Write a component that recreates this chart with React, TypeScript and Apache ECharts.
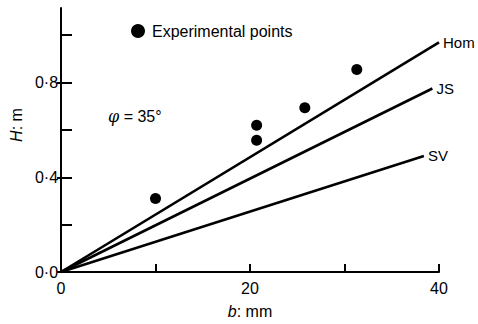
import React, { useEffect, useRef } from "react";
import * as echarts from "echarts";

const homLine: [number, number][] = [[0, 0], [40, 0.97]];
const jsLine: [number, number][] = [[0, 0], [39.3, 0.775]];
const svLine: [number, number][] = [[0, 0], [38.4, 0.49]];
const expPoints: [number, number][] = [
  [10, 0.31],
  [20.7, 0.62],
  [20.7, 0.556],
  [25.8, 0.694],
  [31.3, 0.855],
];
const xLabelValues = [0, 20, 40];
const xTickValues = [10, 20, 30, 40];
const yLabelValues = [0, 0.4, 0.8];
const yInnerTickValues = [0.2, 0.4, 0.6, 0.8, 1.0];

const FONT = "Liberation Sans, Arial, sans-serif";

export default function App() {
  const ref = useRef<HTMLDivElement>(null);
  useEffect(() => {
    if (!ref.current) return;
    const chart = echarts.init(ref.current, undefined, { renderer: "svg" });
    const lineSeries = (name: string, data: [number, number][]) => ({
      type: "line",
      name,
      data,
      symbol: "none",
      lineStyle: { color: "#000", width: 2.6 },
      itemStyle: { color: "#000" },
      endLabel: {
        show: true,
        formatter: name,
        color: "#000",
        fontFamily: FONT,
        fontSize: 15,
        distance: 4,
      },
      silent: true,
    });
    chart.setOption({
      animation: false,
      backgroundColor: "#fff",
      textStyle: { fontFamily: FONT, color: "#000" },
      grid: { left: 60, right: 39, top: 8, bottom: 48, containLabel: false },
      legend: {
        data: [{ name: "Experimental points", icon: "circle" }],
        left: 126,
        top: 18,
        itemWidth: 14,
        itemHeight: 14,
        itemGap: 4,
        textStyle: { color: "#000", fontSize: 16, fontFamily: FONT, padding: [0, 0, 0, 2] },
      },
      graphic: [
        {
          type: "text",
          left: 108,
          top: 108,
          style: {
            text: "{i|φ} = 35°",
            rich: {
              i: { fontStyle: "italic", fontFamily: "DejaVu Serif, serif", fontSize: 16, fill: "#000" },
            },
            fontSize: 16,
            fontFamily: FONT,
            fill: "#000",
          },
        },
      ],
      xAxis: {
        type: "value",
        min: 0,
        max: 40,
        interval: 10,
        name: "{i|b}: mm",
        nameLocation: "middle",
        nameGap: 31,
        nameTextStyle: {
          color: "#000",
          fontSize: 16,
          fontFamily: FONT,
          rich: { i: { fontStyle: "italic", fontSize: 16, fontFamily: FONT, color: "#000" } },
        },
        axisLine: { show: true, lineStyle: { color: "#000", width: 2 } },
        axisTick: {
          show: true,
          inside: true,
          length: 8,
          customValues: xTickValues,
          lineStyle: { color: "#000", width: 2 },
        },
        axisLabel: {
          customValues: xLabelValues,
          color: "#000",
          fontSize: 16,
          margin: 8,
          fontFamily: FONT,
        },
        splitLine: { show: false },
      },
      yAxis: [
        {
          type: "value",
          min: 0,
          max: 1.115,
          name: "{i|H}: m",
          nameLocation: "middle",
          nameGap: 34,
          nameRotate: 90,
          nameTextStyle: {
            color: "#000",
            fontSize: 16,
            fontFamily: FONT,
            padding: [0, 0, 0, 30],
            rich: { i: { fontStyle: "italic", fontSize: 16, fontFamily: FONT, color: "#000" } },
          },
          axisLine: { show: true, lineStyle: { color: "#000", width: 2 } },
          axisTick: {
            show: true,
            inside: false,
            length: 4,
            customValues: yLabelValues,
            lineStyle: { color: "#000", width: 2 },
          },
          axisLabel: {
            customValues: yLabelValues,
            formatter: (v: number) => v.toFixed(1).replace(".", "·"),
            color: "#000",
            fontSize: 16,
            margin: 3,
            fontFamily: FONT,
          },
          splitLine: { show: false },
        },
        {
          type: "value",
          min: 0,
          max: 1.115,
          position: "left",
          axisLine: { show: false },
          axisTick: {
            show: true,
            inside: true,
            length: 11,
            customValues: yInnerTickValues,
            lineStyle: { color: "#000", width: 2 },
          },
          axisLabel: { show: false },
          splitLine: { show: false },
        },
      ],
      series: [
        lineSeries("Hom", homLine),
        lineSeries("JS", jsLine),
        lineSeries("SV", svLine),
        {
          type: "scatter",
          name: "Experimental points",
          data: expPoints,
          symbol: "circle",
          symbolSize: 11,
          itemStyle: { color: "#000", opacity: 1 },
        },
      ],
    });
    return () => chart.dispose();
  }, []);
  return (
    <div
      ref={ref}
      style={{ position: "fixed", left: 0, top: 0, width: 478, height: 324 }}
    />
  );
}
